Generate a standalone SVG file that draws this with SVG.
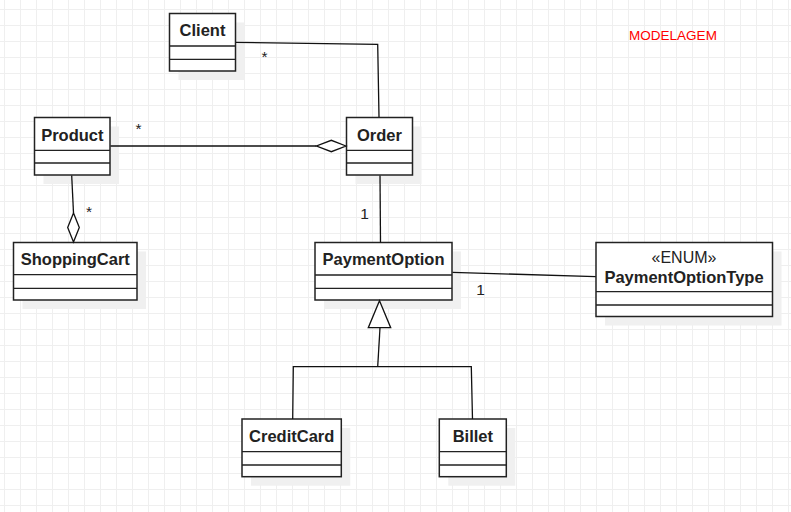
<svg xmlns="http://www.w3.org/2000/svg" width="791" height="512" viewBox="0 0 791 512">
<defs>
<pattern id="grid" x="4" y="9" width="16" height="16" patternUnits="userSpaceOnUse">
<path d="M0.5 0V16M0 0.5H16" fill="none" stroke="#efefef" stroke-width="1"/>
</pattern>
</defs>
<style>
.sh{fill:#f0f0f0;stroke:none}
.box{fill:#ffffff;stroke:#222;stroke-width:1.5}
.div{stroke:#222;stroke-width:1.3;fill:none}
.nm{font-family:"Liberation Sans",Arial,sans-serif;font-weight:bold;font-size:16.5px;fill:#222;text-anchor:middle}
.st{font-family:"Liberation Sans",Arial,sans-serif;font-size:16px;fill:#222;text-anchor:middle}
.ln{fill:none;stroke:#111;stroke-width:1.3}
.hd{fill:#ffffff;stroke:#111;stroke-width:1.3}
.lb{font-family:"Liberation Sans",Arial,sans-serif;font-size:15.5px;fill:#222;text-anchor:middle}
</style>
<rect width="791" height="512" fill="#ffffff"/>
<rect width="791" height="512" fill="url(#grid)"/>
<text x="673" y="40" font-family="'Liberation Sans',Arial,sans-serif" font-size="13.5" fill="#ff0000" text-anchor="middle">MODELAGEM</text>

<g id="client">
<rect class="sh" x="178.5" y="22.5" width="66" height="57.5"/>
<rect class="box" x="169.5" y="13.5" width="66" height="57.5"/>
<path class="div" d="M169.5 46H235.5M169.5 59.3H235.5"/>
<text class="nm" x="202.5" y="36">Client</text>
</g>

<g id="product">
<rect class="sh" x="43.5" y="126.5" width="75.5" height="57.5"/>
<rect class="box" x="34.5" y="117.5" width="75.5" height="57.5"/>
<path class="div" d="M34.5 150.3H110M34.5 163H110"/>
<text class="nm" x="72.3" y="140.5">Product</text>
</g>

<g id="order">
<rect class="sh" x="355.5" y="126.5" width="66" height="57.5"/>
<rect class="box" x="346.5" y="117.5" width="66" height="57.5"/>
<path class="div" d="M346.5 150.3H412.5M346.5 163H412.5"/>
<text class="nm" x="379.5" y="140.5">Order</text>
</g>

<g id="shoppingcart">
<rect class="sh" x="22.5" y="251.5" width="123.5" height="57.5"/>
<rect class="box" x="13.5" y="242.5" width="123.5" height="57.5"/>
<path class="div" d="M13.5 274.7H137M13.5 288.3H137"/>
<text class="nm" x="75.3" y="265">ShoppingCart</text>
</g>

<g id="paymentoption">
<rect class="sh" x="324" y="251.5" width="137" height="57.5"/>
<rect class="box" x="315" y="242.5" width="137" height="57.5"/>
<path class="div" d="M315 275H452M315 288.3H452"/>
<text class="nm" x="383.5" y="265">PaymentOption</text>
</g>

<g id="paymentoptiontype">
<rect class="sh" x="605" y="251.5" width="176.5" height="74"/>
<rect class="box" x="596" y="242.5" width="176.5" height="74"/>
<path class="div" d="M596 291.7H772.5M596 305H772.5"/>
<text class="st" x="684" y="263">«ENUM»</text>
<text class="nm" x="684" y="283.3">PaymentOptionType</text>
</g>

<g id="creditcard">
<rect class="sh" x="251" y="428" width="99.3" height="57.7"/>
<rect class="box" x="242" y="419" width="99.3" height="57.7"/>
<path class="div" d="M242 451.7H341.3M242 465H341.3"/>
<text class="nm" x="291.7" y="441.5">CreditCard</text>
</g>

<g id="billet">
<rect class="sh" x="448.3" y="428" width="67" height="57.7"/>
<rect class="box" x="439.3" y="419" width="67" height="57.7"/>
<path class="div" d="M439.3 451.7H506.3M439.3 465H506.3"/>
<text class="nm" x="472.8" y="441.5">Billet</text>
</g>

<g id="connectors">
<polyline class="ln" points="236,42.3 377.7,44.3 379,117"/>
<text class="lb" x="264.5" y="62">*</text>
<line class="ln" x1="110.5" y1="146" x2="316.5" y2="146"/>
<polygon class="hd" points="346,146 331.3,140.3 316.5,146 331.3,151.7"/>
<text class="lb" x="138.5" y="134">*</text>
<polyline class="ln" points="71.7,175.5 73.5,213"/>
<polygon class="hd" points="73.5,213 79.3,227.5 73.5,242 67.7,227.5"/>
<text class="lb" x="89" y="217">*</text>
<line class="ln" x1="380" y1="175.5" x2="380.5" y2="242.5"/>
<text class="lb" x="364.5" y="218.5">1</text>
<line class="ln" x1="452.5" y1="272.3" x2="595.7" y2="276.7"/>
<text class="lb" x="480.5" y="294.5">1</text>
<polygon class="hd" points="379.5,300.8 390.7,327.7 368.3,327.7"/>
<polyline class="ln" points="380,327.7 377.7,366.7"/>
<polyline class="ln" points="292.7,419 293.3,366.7 471.3,366.7 472.5,419"/>
</g>
</svg>
